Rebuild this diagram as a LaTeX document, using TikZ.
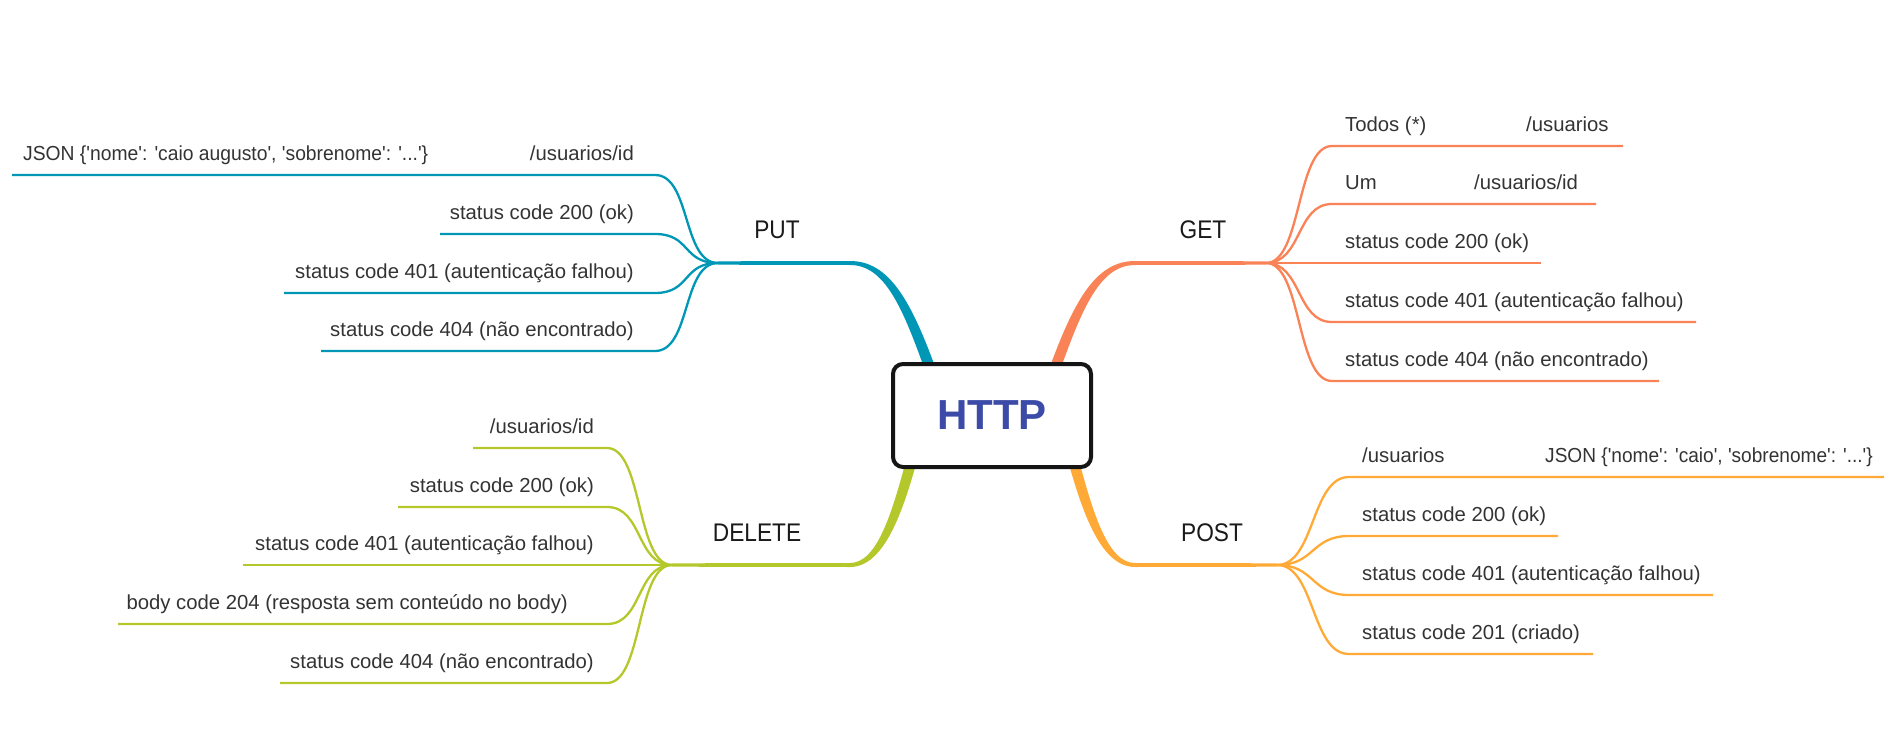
\documentclass[tikz,border=0pt]{standalone}
\usepackage{fontspec}
\setmainfont{Liberation Sans}
\newfontfamily\lblfont[FakeStretch=0.89]{Liberation Sans}
\definecolor{putc}{HTML}{0097B7}
\definecolor{getc}{HTML}{FA8257}
\definecolor{postc}{HTML}{FFAA36}
\definecolor{delc}{HTML}{B4C82B}
\definecolor{txt}{HTML}{333333}
\definecolor{lbl}{HTML}{1A1A1A}
\definecolor{httpc}{HTML}{3C4BA8}
\definecolor{boxc}{HTML}{151515}
\newcommand{\sq}{\textquotesingle}
\tikzset{
  leaf/.style={font=\fontsize{20.3}{24}\selectfont, text=txt, inner sep=0pt},
  leafL/.style={leaf, anchor=base west},
  leafR/.style={leaf, anchor=base east},
  mainlbl/.style={font=\lblfont\fontsize{25.5}{30}\selectfont, text=lbl, inner sep=0pt, anchor=base},
  twig/.style={line width=2.3pt},
  hub/.style={draw=boxc, line width=4pt, rounded corners=10pt, fill=white,
    minimum width=198pt, minimum height=103pt, inner sep=0pt,
    font=\fontsize{42}{50}\selectfont\bfseries, text=httpc},
}
\begin{document}
\begin{tikzpicture}[x=1pt,y=-1pt]
\useasboundingbox (0,0) rectangle (1896,752);

% fork points
\coordinate (putfork) at (718,263);
\coordinate (getfork) at (1266,263);
\coordinate (delfork) at (672,565);
\coordinate (postfork) at (1277,565);

% ---------- PUT twigs ----------
\coordinate (pu1a) at (655,175); \coordinate (pu1b) at (12,175);
\coordinate (pu2a) at (655,234); \coordinate (pu2b) at (440,234);
\coordinate (pu3a) at (655,293); \coordinate (pu3b) at (284,293);
\coordinate (pu4a) at (655,351); \coordinate (pu4b) at (321,351);
\draw[twig,putc] (putfork) .. controls +(-36,0) and +(36,0) .. (pu1a) -- (pu1b);
\draw[twig,putc] (putfork) .. controls +(-36,0) and +(36,0) .. (pu2a) -- (pu2b);
\draw[twig,putc] (putfork) .. controls +(-36,0) and +(36,0) .. (pu3a) -- (pu3b);
\draw[twig,putc] (putfork) .. controls +(-36,0) and +(36,0) .. (pu4a) -- (pu4b);

% ---------- GET twigs ----------
\coordinate (ge1a) at (1332,146); \coordinate (ge1b) at (1623,146);
\coordinate (ge2a) at (1332,204); \coordinate (ge2b) at (1596,204);
\coordinate (ge3b) at (1541,263);
\coordinate (ge4a) at (1332,322); \coordinate (ge4b) at (1696,322);
\coordinate (ge5a) at (1332,381); \coordinate (ge5b) at (1659,381);
\draw[twig,getc] (getfork) .. controls +(36,0) and +(-36,0) .. (ge1a) -- (ge1b);
\draw[twig,getc] (getfork) .. controls +(36,0) and +(-36,0) .. (ge2a) -- (ge2b);
\draw[twig,getc] (getfork) -- (ge3b);
\draw[twig,getc] (getfork) .. controls +(36,0) and +(-36,0) .. (ge4a) -- (ge4b);
\draw[twig,getc] (getfork) .. controls +(36,0) and +(-36,0) .. (ge5a) -- (ge5b);

% ---------- POST twigs ----------
\coordinate (po1a) at (1349,477); \coordinate (po1b) at (1884,477);
\coordinate (po2a) at (1349,536); \coordinate (po2b) at (1558,536);
\coordinate (po3a) at (1349,595); \coordinate (po3b) at (1713,595);
\coordinate (po4a) at (1349,654); \coordinate (po4b) at (1593,654);
\draw[twig,postc] (postfork) .. controls +(38,0) and +(-38,0) .. (po1a) -- (po1b);
\draw[twig,postc] (postfork) .. controls +(38,0) and +(-38,0) .. (po2a) -- (po2b);
\draw[twig,postc] (postfork) .. controls +(38,0) and +(-38,0) .. (po3a) -- (po3b);
\draw[twig,postc] (postfork) .. controls +(38,0) and +(-38,0) .. (po4a) -- (po4b);

% ---------- DELETE twigs ----------
\coordinate (de1a) at (607,448); \coordinate (de1b) at (473,448);
\coordinate (de2a) at (607,507); \coordinate (de2b) at (398,507);
\coordinate (de3b) at (243,565);
\coordinate (de4a) at (607,624); \coordinate (de4b) at (118,624);
\coordinate (de5a) at (607,683); \coordinate (de5b) at (280,683);
\draw[twig,delc] (delfork) .. controls +(-36,0) and +(36,0) .. (de1a) -- (de1b);
\draw[twig,delc] (delfork) .. controls +(-36,0) and +(36,0) .. (de2a) -- (de2b);
\draw[twig,delc] (delfork) -- (de3b);
\draw[twig,delc] (delfork) .. controls +(-36,0) and +(36,0) .. (de4a) -- (de4b);
\draw[twig,delc] (delfork) .. controls +(-36,0) and +(36,0) .. (de5a) -- (de5b);

% ---------- main tapered branches ----------
\fill[putc] (718,261.3) -- (850,261) .. controls (889,261) and (911,300) .. (937,372)
  -- (927,376) .. controls (903,308) and (885,265) .. (850,265) -- (718,264.7) -- cycle;
\fill[getc] (1266,261.3) -- (1135,261) .. controls (1096,261) and (1074,300) .. (1048,372)
  -- (1058,376) .. controls (1082,308) and (1100,265) .. (1135,265) -- (1266,264.7) -- cycle;
\fill[delc] (672,566.7) -- (850,567) .. controls (883,567) and (902,516) .. (918,457)
  -- (908,453) .. controls (892,514) and (877,563) .. (850,563) -- (672,563.3) -- cycle;
\fill[postc] (1277,566.7) -- (1135,567) .. controls (1102,567) and (1083,516) .. (1067,457)
  -- (1077,453) .. controls (1093,514) and (1108,563) .. (1135,563) -- (1277,563.3) -- cycle;

% ---------- central node ----------
\node[hub] (http) at (992,415.5) {HTTP};

% ---------- branch labels ----------
\node[mainlbl] (put) at (777,238.3) {PUT};
\node[mainlbl] (get) at (1203,238.3) {GET};
\node[mainlbl] (delete) at (757,541) {DELETE};
\node[mainlbl] (post) at (1212,541) {POST};

% ---------- PUT texts ----------
\node[leafL] (pu1t) at (23,160) {\scalebox{0.95}[1]{JSON \{\sq nome\sq: \sq caio augusto\sq, \sq sobrenome\sq: \sq...\sq\}}};
\node[leafR] (pu1u) at (634,160) {/usuarios/id};
\node[leafR] (pu2t) at (634,219) {status code 200 (ok)};
\node[leafR] (pu3t) at (634,278) {status code 401 (autenticação falhou)};
\node[leafR] (pu4t) at (634,336) {status code 404 (não encontrado)};

% ---------- GET texts ----------
\node[leafL] (ge1t) at (1345,131) {Todos (*)};
\node[leafL] (ge1u) at (1526,131) {/usuarios};
\node[leafL] (ge2t) at (1345,189) {Um};
\node[leafL] (ge2u) at (1474,189) {/usuarios/id};
\node[leafL] (ge3t) at (1345,248) {status code 200 (ok)};
\node[leafL] (ge4t) at (1345,307) {status code 401 (autenticação falhou)};
\node[leafL] (ge5t) at (1345,366) {status code 404 (não encontrado)};

% ---------- POST texts ----------
\node[leafL] (po1t) at (1362,462) {/usuarios};
\node[leafL] (po1j) at (1545,462) {\scalebox{0.94}[1]{JSON \{\sq nome\sq: \sq caio\sq, \sq sobrenome\sq: \sq...\sq\}}};
\node[leafL] (po2t) at (1362,521) {status code 200 (ok)};
\node[leafL] (po3t) at (1362,580) {status code 401 (autenticação falhou)};
\node[leafL] (po4t) at (1362,639) {status code 201 (criado)};

% ---------- DELETE texts ----------
\node[leafR] (de1t) at (594,433) {/usuarios/id};
\node[leafR] (de2t) at (594,492) {status code 200 (ok)};
\node[leafR] (de3t) at (594,550) {status code 401 (autenticação falhou)};
\node[leafR] (de4t) at (568,609) {body code 204 (resposta sem conteúdo no body)};
\node[leafR] (de5t) at (594,668) {status code 404 (não encontrado)};
\end{tikzpicture}
\end{document}
